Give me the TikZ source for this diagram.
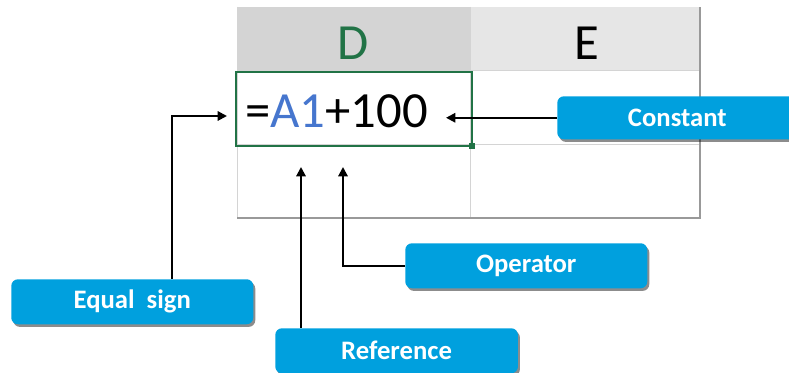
\documentclass[tikz,border=0pt]{standalone}
\usepackage{fontspec}
\setmainfont{Carlito}
\usetikzlibrary{shadows,arrows.meta}

\definecolor{xlgreen}{RGB}{33,115,70}
\definecolor{calloutblue}{RGB}{0,160,222}
\definecolor{refblue}{RGB}{70,118,206}
\definecolor{hdrsel}{RGB}{212,212,212}
\definecolor{hdrgray}{RGB}{230,230,230}
\definecolor{gridgray}{RGB}{212,212,212}

\tikzset{
  callout/.style={fill=calloutblue, rounded corners=5pt, text=white,
    font=\fontsize{20}{21}\selectfont\bfseries, inner sep=0pt,
    minimum width=181.5pt, minimum height=33.75pt, anchor=north west,
    drop shadow={shadow xshift=1.5pt, shadow yshift=-2pt, fill=black, opacity=.45}},
  pointer/.style={-{Triangle[length=7pt,width=7pt]}, line width=1.5pt},
  bigtext/.style={font=\fontsize{38}{40}\selectfont, inner sep=0pt}
}

\begin{document}
\begin{tikzpicture}[x=0.75pt, y=-0.75pt]
\useasboundingbox (0,0) rectangle (789,373);

% Заголовки столбцов
\fill[hdrsel] (237,7) rectangle (470,71);
\fill[hdrgray] (470,7) rectangle (699,71);
\node[bigtext, text=xlgreen, anchor=base] (colD) at (353,60) {D};
\node[bigtext, anchor=base] (colE) at (587,60) {E};

% Сетка
\draw[gridgray, line width=0.75pt] (237,7) -- (237,218);
\draw[gridgray, line width=0.75pt] (470,7) -- (470,218);
\draw[gridgray, line width=0.75pt] (237,71) -- (699,71);
\draw[gridgray, line width=0.75pt] (237,145) -- (699,145);
% Тень таблицы
\draw[gray!80, line width=1.5pt] (237,218) -- (700,218) -- (700,7);

% Выделенная ячейка
\draw[xlgreen, line width=1.5pt] (236,72) rectangle (472,146);
\fill[xlgreen] (469,143) rectangle (475,149);
\node[bigtext, anchor=base west] (formula) at (245,128)
  {=\textcolor{refblue}{A1}+100};

% Концы стрелок
\coordinate (eqTip) at (227,116);
\coordinate (refTip) at (301,167);
\coordinate (opTip) at (343,167);
\coordinate (cstTip) at (446,116);

% Выноски
\node[callout] (eqsign) at (11,279) {Equal\ \ sign};
\node[callout, minimum width=182pt] (reference) at (275,328) {Reference};
\node[callout] (operator) at (405,243) {Operator};
\node[callout, minimum width=180pt, minimum height=32.25pt] (constant) at (557,96) {Constant};

% Стрелки
\draw[pointer] ([xshift=30pt]eqsign.north) |- (eqTip);
\draw[pointer] (reference.north -| refTip) -- (refTip);
\draw[pointer] (operator.west) -| (opTip);
\draw[pointer] (constant.west) -- (cstTip |- constant.west);

\end{tikzpicture}
\end{document}
